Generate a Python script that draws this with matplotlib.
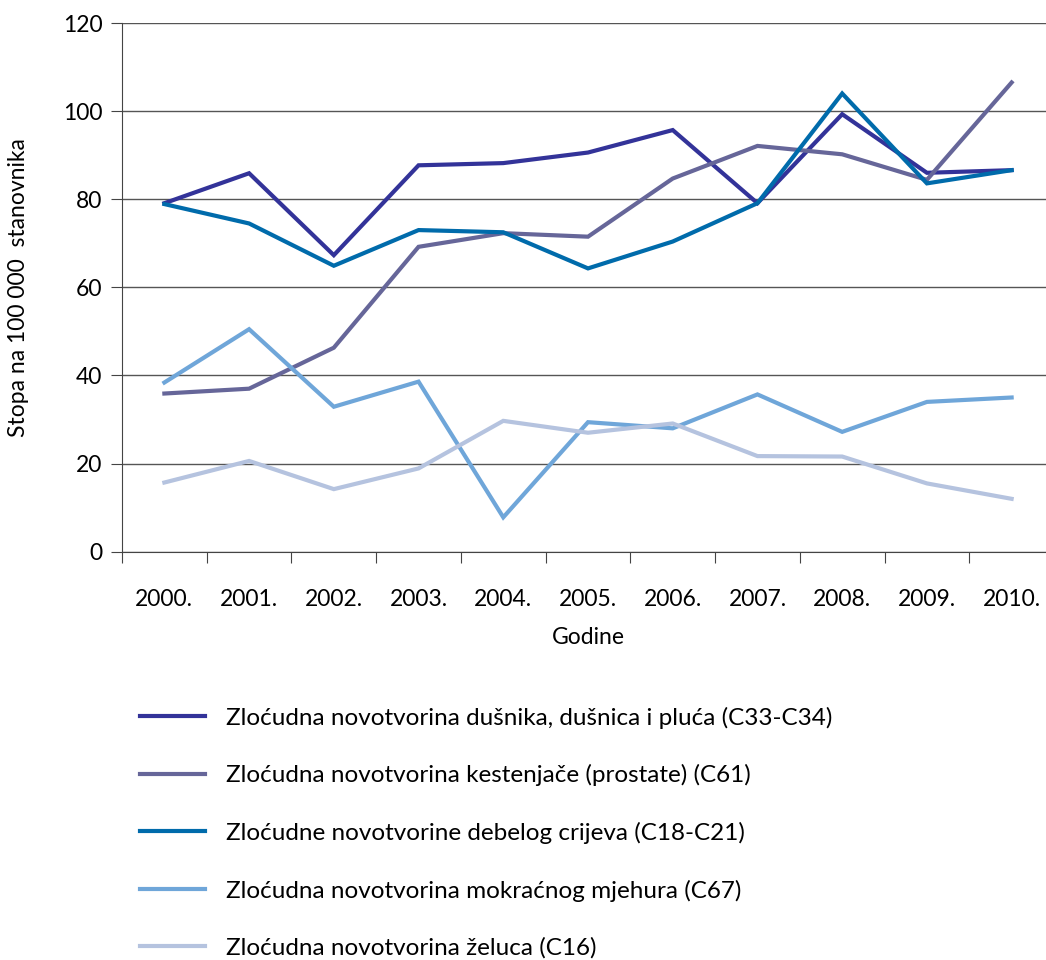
import matplotlib.pyplot as plt

# -----------------------------
# Podaci
# -----------------------------
godine = ["2000.", "2001.", "2002.", "2003.", "2004.", "2005.",
          "2006.", "2007.", "2008.", "2009.", "2010."]

pluca = [79.1, 85.9, 67.3, 87.7, 88.2, 90.6, 95.7, 79.1, 99.3, 86.0, 86.6]
prostata = [35.9, 37.0, 46.3, 69.2, 72.3, 71.5, 84.7, 92.1, 90.2, 84.4, 106.5]
debelo_crijevo = [78.9, 74.5, 64.9, 73.0, 72.5, 64.3, 70.4, 79.1, 104.0, 83.6, 86.6]
mjehur = [38.4, 50.5, 32.9, 38.6, 7.8, 29.4, 28.0, 35.7, 27.2, 34.0, 35.0]
zeludac = [15.7, 20.6, 14.2, 18.9, 29.7, 27.0, 29.1, 21.7, 21.6, 15.5, 12.0]

nazivi = [
    "Zloćudna novotvorina dušnika, dušnica i pluća (C33-C34)",
    "Zloćudna novotvorina kestenjače (prostate) (C61)",
    "Zloćudne novotvorine debelog crijeva (C18-C21)",
    "Zloćudna novotvorina mokraćnog mjehura (C67)",
    "Zloćudna novotvorina želuca (C16)",
]
boje = ["#333399", "#666699", "#006BAB", "#6FA6D9", "#B5C3DF"]

plt.rcParams["font.family"] = ["Lato", "DejaVu Sans"]

# -----------------------------
# Graf
# -----------------------------
fig = plt.figure(figsize=(10.46, 9.6), dpi=100)
ax = fig.add_axes([122 / 1046, 1 - 551.7 / 960, 932 / 1046, 528.7 / 960])

x = list(range(len(godine)))
serije = [pluca, prostata, debelo_crijevo, mjehur, zeludac]
for vrijednosti, boja, naziv in zip(serije, boje, nazivi):
    ax.plot(x, vrijednosti, color=boja, linewidth=3.0, label=naziv,
            solid_joinstyle="miter")

ax.set_xlim(-0.5, 10.5)
ax.set_ylim(0, 120)
ax.set_yticks(range(0, 121, 20))
ax.grid(axis="y", color="#555555", linewidth=1.0)
ax.set_axisbelow(True)

ax.set_xticks([i + 0.5 for i in range(-1, 11)], minor=False)
ax.set_xticklabels([])
ax.set_xticks(x, minor=True)
ax.set_xticklabels(godine, minor=True, fontsize=16.5)
ax.tick_params(axis="x", which="minor", length=0, pad=27)
ax.tick_params(axis="x", which="major", length=8, color="#444444", direction="out")
ax.tick_params(axis="y", length=8, color="#444444", labelsize=16.5, pad=6)

for s in ["top", "right"]:
    ax.spines[s].set_visible(False)
ax.spines["left"].set_color("#444444")
ax.spines["bottom"].set_color("#444444")

ax.set_xlabel("Godine", fontsize=16.5, labelpad=12)
ax.set_ylabel("Stopa na 100 000  stanovnika", fontsize=16.5, labelpad=12)
ax.yaxis.set_label_coords(-93 / 932, 0.5)

fig.legend(loc="upper left", bbox_to_anchor=(130 / 1046, 1 - 697 / 960),
           frameon=False, fontsize=17.5, handlelength=2.67, handletextpad=0.9,
           labelspacing=1.46, borderaxespad=0)

fig.savefig("out.png", dpi=100)
